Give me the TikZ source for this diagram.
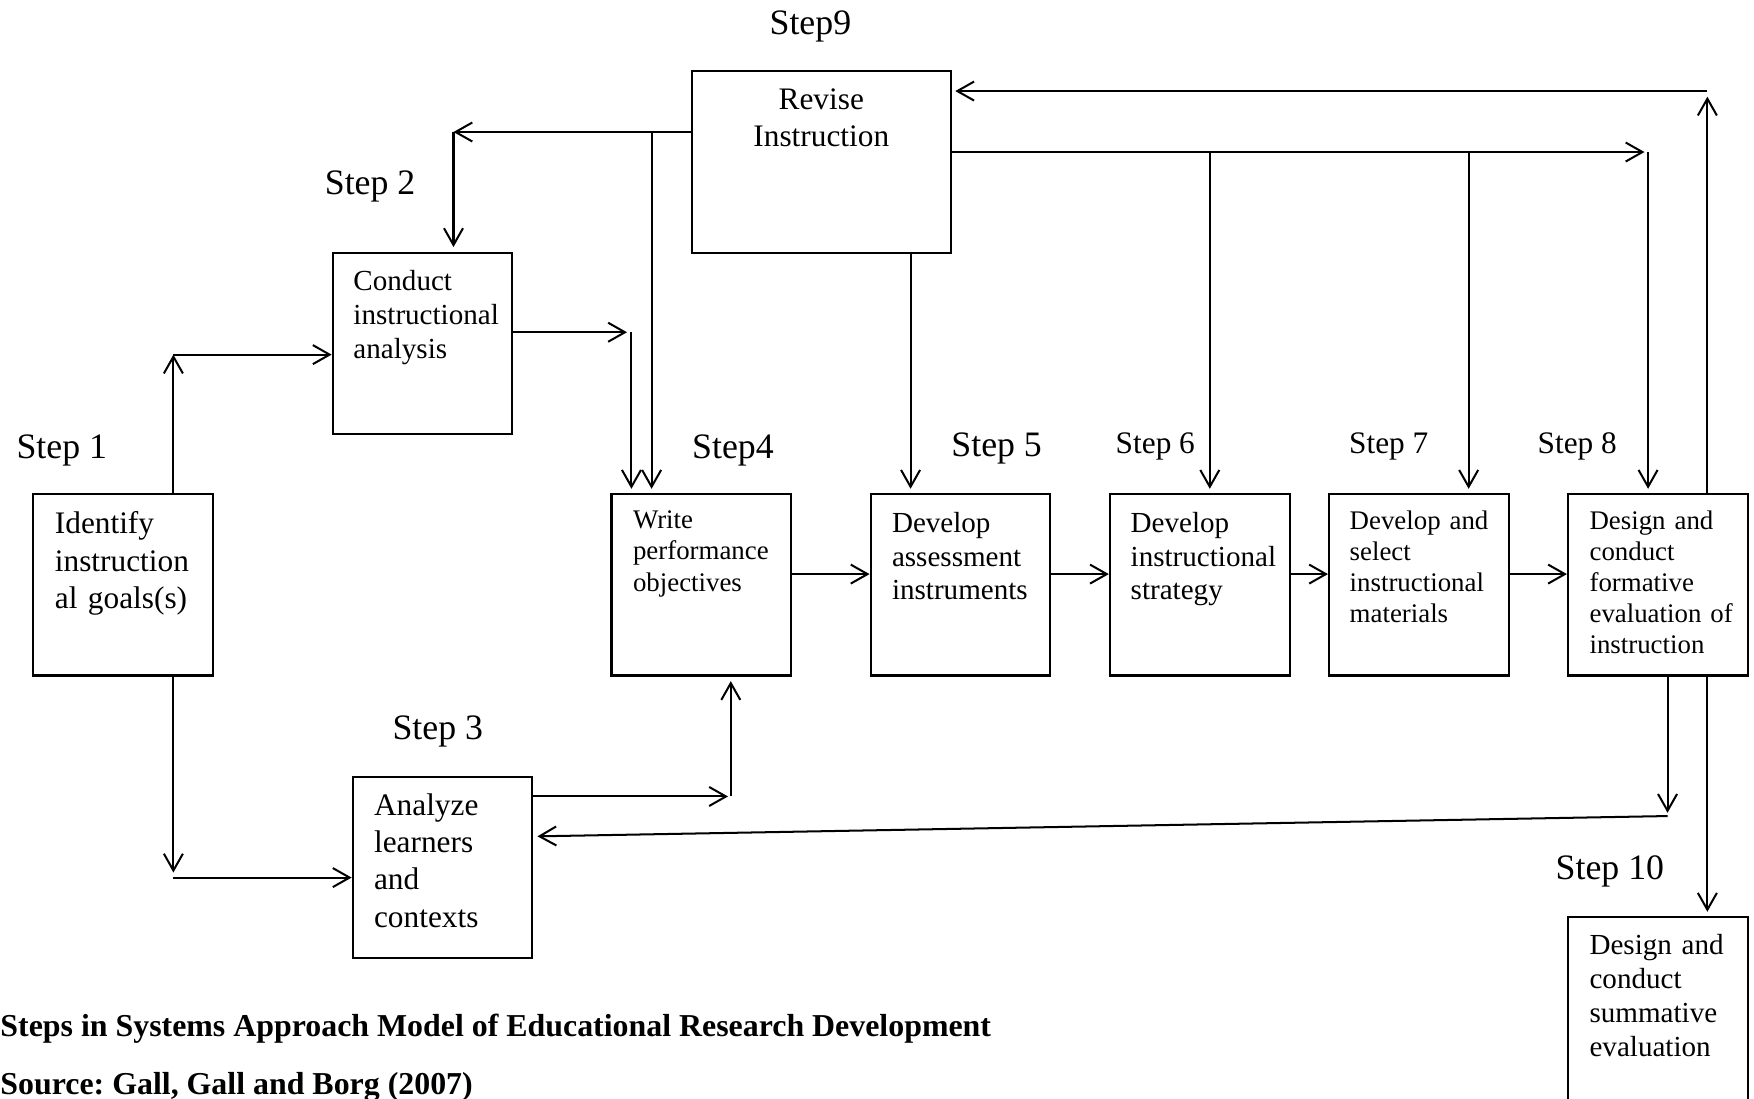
\documentclass[tikz,border=0pt]{standalone}
\usepackage{fontspec}
\setmainfont{Liberation Serif}
\usetikzlibrary{arrows.meta}
\newcommand{\setfs}[2]{\fontsize{#1}{#2}\selectfont}
\frenchspacing
\begin{document}
\begin{tikzpicture}[x=0.5pt,y=-0.5pt,
  box/.style={draw,line width=0.95pt,minimum width=80.3pt,minimum height=81pt,inner sep=0pt},
  conn/.style={line width=0.9pt,-{Straight Barb[length=7.5pt,width=8.5pt]}},
  inbox/.style={anchor=base west,inner sep=0pt,align=left,text width=78pt},
  steplabel/.style={anchor=base west,inner sep=0pt,font=\setfs{16}{19}},
  smalllabel/.style={anchor=base west,inner sep=0pt,font=\setfs{14}{17}},
  caption/.style={anchor=base west,inner sep=0pt,font=\setfs{14.25}{17}\bfseries},
]
\clip (0,0) rectangle (1568,982);

% ---- boxes ----
\node[box] (b1) at (110.1,522.9) {};
\node[box] (b2) at (377.75,306.8) {};
\node[box] (b3) at (395.6,775.2) {};
\node[box] (b4) at (626.9,522.9) {};
\node[box] (b5) at (858.6,522.9) {};
\node[box] (b6) at (1072.5,522.9) {};
\node[box] (b7) at (1268.4,522.9) {};
\node[box] (b8) at (1482,522.9) {};
\node[box,minimum width=115.8pt] (b9) at (734.2,144.8) {};
\node[box,minimum height=90pt] (b10) at (1482,910) {};

% ---- box texts ----
\node[inbox,font=\setfs{14}{16.6}] (t1) at (48.7,477.3) {Identify\\instruction\\al goals(s)};
\node[inbox,font=\setfs{13}{15.25}] (t2) at (315.6,259.3) {Conduct\\instructional\\analysis};
\node[inbox,font=\setfs{14}{16.6}] (t3) at (334,729.2) {Analyze\\learners\\and\\contexts};
\node[inbox,font=\setfs{12}{14}] (t4) at (565.5,472.5) {Write\\performance\\objectives};
\node[inbox,font=\setfs{13}{15}] (t5) at (797,476.2) {Develop\\assessment\\instruments};
\node[inbox,font=\setfs{13}{15}] (t6) at (1010.4,476.2) {Develop\\instructional\\strategy};
\node[inbox,font=\setfs{12}{13.9}] (t7) at (1206.2,473.2) {Develop and\\select\\instructional\\materials};
\node[inbox,font=\setfs{12}{13.9}] (t8) at (1420.6,473.2) {Design and\\conduct\\formative\\evaluation of\\instruction};
\node[anchor=base,inner sep=0pt,align=center,text width=110pt,font=\setfs{14}{16.5}] (t9) at (734.2,98.3) {Revise\\Instruction};
\node[inbox,font=\setfs{13}{15.15}] (t10) at (1420.6,853.7) {Design and\\conduct\\summative\\evaluation};

% ---- step labels ----
\node[steplabel] (s9) at (687.6,30.7) {Step9};
\node[steplabel] (s2) at (290,174.3) {Step 2};
\node[steplabel] (s1) at (14.4,409.7) {Step 1};
\node[steplabel] (s4) at (618.4,409.7) {Step4};
\node[steplabel] (s5) at (850.1,408.3) {Step 5};
\node[smalllabel] (s6) at (997,405.3) {Step 6};
\node[smalllabel] (s7) at (1205.7,405.3) {Step 7};
\node[smalllabel] (s8) at (1374.2,405.3) {Step 8};
\node[steplabel] (s3) at (350.5,661) {Step 3};
\node[steplabel] (s10) at (1390.3,786.5) {Step 10};

% ---- caption ----
\node[caption] (cap) at (0,926.9) {Steps in Systems Approach Model of Educational Research Development};
\node[caption] (src) at (0,978.6) {Source: Gall, Gall and Borg (2007)};

% ---- bend points ----
\coordinate (p1) at (155,317);
\coordinate (p2a) at (155,780);
\coordinate (p2b) at (155,784.5);
\coordinate (p3) at (560.5,297);
\coordinate (p3v) at (564.5,297);
\coordinate (q) at (405.4,118);
\coordinate (q2) at (582.5,118);
\coordinate (r) at (650.8,712);
\coordinate (rv) at (653.3,712);
\coordinate (k5) at (814,135.9);
\coordinate (u) at (1470.1,135.9);
\coordinate (u8) at (1473.3,135.9);
\coordinate (u6) at (1081.5,135.9);
\coordinate (u7) at (1312.9,135.9);
\coordinate (v) at (1526.3,86.4);
\coordinate (v2) at (1526.3,81.4);
\coordinate (w) at (1490.7,726.6);
\coordinate (w2) at (1490.7,729.5);
\coordinate (z) at (1526.3,700);

% ---- connectors ----
% step 1 to steps 2 and 3
\draw[conn] (p1 |- b1.north) -- (p1);
\draw[conn] (p1) -- (p1 -| b2.west);
\draw[conn] (p2a |- b1.south) -- (p2a);
\draw[conn] (p2b) -- (p2b -| b3.west);
% step 2 and step 3 into step 4
\draw[conn] (p3 -| b2.east) -- (p3);
\draw[conn,shorten >=2pt] (p3v) -- (p3v |- b4.north);
\draw[conn] (r -| b3.east) -- (r);
\draw[conn,shorten >=2pt] (rv) -- (rv |- b4.south);
% main row
\draw[conn] ([yshift=4.85pt]b4.east) -- ([yshift=4.85pt]b5.west);
\draw[conn] ([yshift=4.85pt]b5.east) -- ([yshift=4.85pt]b6.west);
\draw[conn] ([yshift=4.85pt]b6.east) -- ([yshift=4.85pt]b7.west);
\draw[conn] ([yshift=4.85pt]b7.east) -- ([yshift=4.85pt]b8.west);
% revision lines out of step 9
\draw[conn] (q -| b9.west) -- (q);
\draw[conn,shorten >=2pt] (q) -- (q |- b2.north);
\draw[conn,shorten >=2pt] (q2) -- (q2 |- b4.north);
\draw[conn,shorten >=2pt] (k5 |- b9.south) -- (k5 |- b5.north);
\draw[conn] (u -| b9.east) -- (u);
\draw[conn,shorten >=2pt] (u6) -- (u6 |- b6.north);
\draw[conn,shorten >=2pt] (u7) -- (u7 |- b7.north);
\draw[conn,shorten >=2pt] (u8) -- (u8 |- b8.north);
% feedback from step 8
\draw[conn] (v |- b8.north) -- (v);
\draw[conn,shorten >=1.5pt] (v2) -- (v2 -| b9.east);
\draw[conn] (w |- b8.south) -- (w);
\draw[conn,shorten >=1.8pt] (w2) -- ([yshift=13.75pt]b3.east);
\draw[conn,shorten >=2pt] (z |- b8.south) -- (z |- b10.north);
\end{tikzpicture}
\end{document}
